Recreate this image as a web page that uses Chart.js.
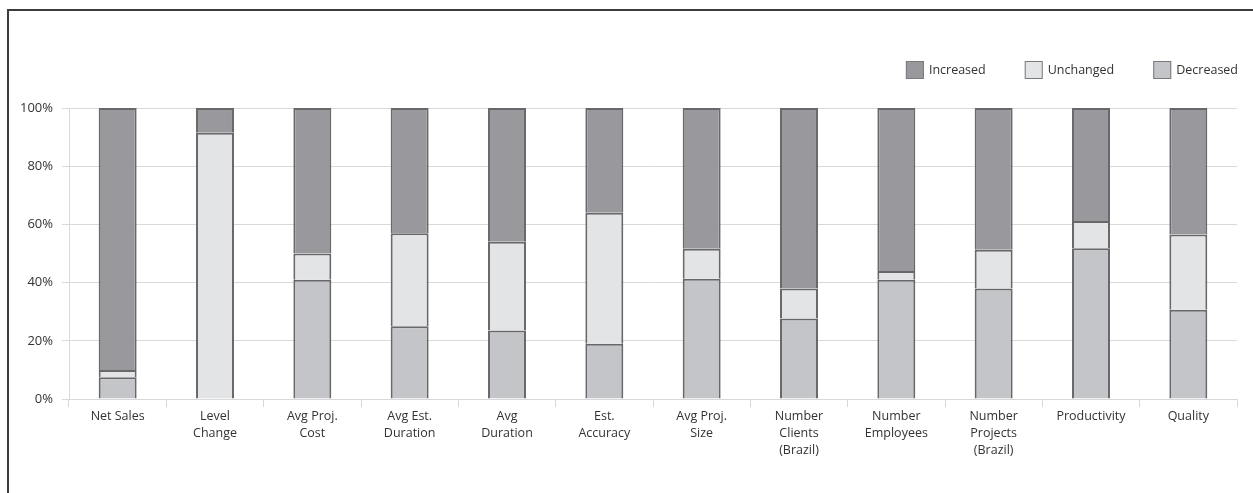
<!DOCTYPE html>
<html>
<head>
<meta charset="utf-8">
<script src="https://cdn.jsdelivr.net/npm/chart.js@4/dist/chart.umd.min.js"></script>
<style>
  html, body { margin: 0; padding: 0; background: #fff; overflow: hidden; }
  #wrap { position: relative; width: 1253px; height: 493px; }
  #frame { position: absolute; left: 7px; top: 9px; right: -10px; bottom: -10px;
           border-top: 2px solid #3c3c3c; border-left: 2px solid #3c3c3c; pointer-events: none; }
</style>
</head>
<body>
<div id="wrap">
  <canvas id="changeChart" width="1253" height="493"></canvas>
  <div id="frame"></div>
</div>
<script>
var categories = [
  "Net Sales", ["Level", "Change"], ["Avg Proj.", "Cost"], ["Avg Est.", "Duration"],
  ["Avg", "Duration"], ["Est.", "Accuracy"], ["Avg Proj.", "Size"],
  ["Number", "Clients", "(Brazil)"], ["Number", "Employees"],
  ["Number", "Projects", "(Brazil)"], "Productivity", "Quality"
];
var decreased = [7.5, 0, 41, 25, 23.5, 19, 41.3, 27.7, 41, 38, 51.8, 30.7];
var unchanged = [2.5, 91.5, 9, 32, 30.5, 45, 10.3, 10.3, 3, 13.3, 9.4, 25.8];
var increased = [90, 8.5, 50, 43, 46, 36, 48.4, 62, 56, 48.7, 38.8, 43.5];
var yTicks = [0, 20, 40, 60, 80, 100];

var fontFamily = "'Open Sans', 'Noto Sans', sans-serif";
var gridGray = '#d9d9d9';
var textColor = '#333333';

// legend drawn at the top right, gaps like the original
var legendPlugin = {
  id: 'sideLegend',
  afterDraw: function(chart) {
    var ctx = chart.ctx;
    var sets = chart.data.datasets.slice().reverse();
    var box = 18, gapText = 5, gapItem = 39;
    var y = 61;
    ctx.save();
    ctx.font = '12.5px ' + fontFamily;
    ctx.textBaseline = 'middle';
    var x = chart.chartArea.right + 1;
    for (var i = sets.length - 1; i >= 0; i--) {
      var w = ctx.measureText(sets[i].label).width;
      x -= w;
      ctx.fillStyle = textColor;
      ctx.fillText(sets[i].label, x, y + box / 2);
      x -= gapText + box;
      ctx.fillStyle = sets[i].backgroundColor;
      ctx.fillRect(x, y, box, box);
      ctx.strokeStyle = '#7a7a7d';
      ctx.lineWidth = 1;
      ctx.strokeRect(x + 0.5, y + 0.5, box - 1, box - 1);
      x -= gapItem;
    }
    ctx.restore();
  }
};

var ctx = document.getElementById("changeChart");
var changeChart = new Chart(ctx, {
  type: 'bar',
  data: {
    labels: categories,
    datasets: [
      {
        label: 'Decreased',
        data: decreased,
        backgroundColor: '#c4c5c9',
        borderColor: '#68686b',
        borderWidth: 2
      },
      {
        label: 'Unchanged',
        data: unchanged,
        backgroundColor: '#e3e4e6',
        borderColor: '#68686b',
        borderWidth: 2
      },
      {
        label: 'Increased',
        data: increased,
        backgroundColor: '#99989d',
        borderColor: '#68686b',
        borderWidth: 2
      }
    ]
  },
  options: {
    responsive: false,
    animation: false,
    categoryPercentage: 1,
    barPercentage: 0.39,
    layout: { padding: { top: 108, right: 16, left: 0, bottom: 0 } },
    plugins: {
      legend: { display: false },
      tooltip: { enabled: false }
    },
    scales: {
      x: {
        stacked: true,
        grid: {
          offset: true,
          drawOnChartArea: true,
          tickLength: 8,
          color: function(c) { return c.index === categories.length ? gridGray : 'rgba(0,0,0,0)'; },
          tickColor: gridGray
        },
        border: { display: true, color: gridGray },
        ticks: {
          autoSkip: false,
          maxRotation: 0,
          minRotation: 0,
          padding: 1,
          color: textColor,
          font: { family: fontFamily, size: 12.5, lineHeight: 1.36 }
        },
        afterFit: function(scale) { scale.height = 94; }
      },
      y: {
        stacked: true,
        min: 0,
        max: 100,
        grid: { color: gridGray, tickLength: 7 },
        border: { display: true, color: gridGray },
        afterBuildTicks: function(scale) {
          scale.ticks = yTicks.map(function(v) { return { value: v }; });
        },
        ticks: {
          padding: 9,
          color: textColor,
          font: { family: fontFamily, size: 13 },
          callback: function(v) { return v + '%'; }
        },
        afterFit: function(scale) { scale.width = 69; }
      }
    }
  },
  plugins: [legendPlugin]
});
</script>
</body>
</html>
